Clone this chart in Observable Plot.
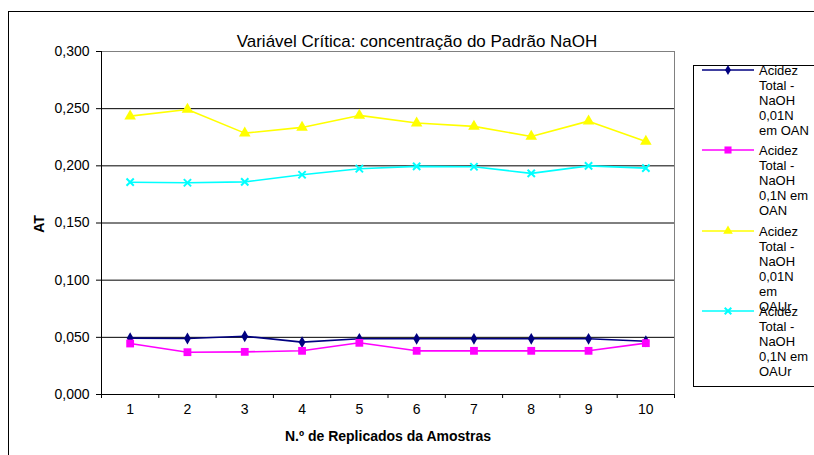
<!DOCTYPE html>
<html><head><meta charset="utf-8">
<script src="https://cdn.jsdelivr.net/npm/d3@7"></script>
<script src="https://cdn.jsdelivr.net/npm/@observablehq/plot@0.6"></script>
<style>body{margin:0;background:#fff}#chart svg{display:block}</style>
</head><body><div id="chart"></div>
<script>
const replicados = [1, 2, 3, 4, 5, 6, 7, 8, 9, 10];
const seriesNames = [
  "Acidez Total - NaOH 0,01N em OAN",
  "Acidez Total - NaOH 0,1N em OAN",
  "Acidez Total - NaOH 0,01N em OAUr",
  "Acidez Total - NaOH 0,1N em OAUr"
];
const legendLines = [
  ["Acidez", "Total -", "NaOH", "0,01N", "em OAN"],
  ["Acidez", "Total -", "NaOH", "0,1N em", "OAN"],
  ["Acidez", "Total -", "NaOH", "0,01N", "em", "OAUr"],
  ["Acidez", "Total -", "NaOH", "0,1N em", "OAUr"]
];
const naoh001OAN  = [0.0493, 0.0490, 0.0510, 0.0458, 0.0487, 0.0487, 0.0487, 0.0487, 0.0487, 0.0466];
const naoh01OAN   = [0.0446, 0.0370, 0.0373, 0.0382, 0.0452, 0.0382, 0.0382, 0.0382, 0.0382, 0.0449];
const naoh001OAUr = [0.2435, 0.2493, 0.2286, 0.2336, 0.2441, 0.2374, 0.2345, 0.2257, 0.2391, 0.2213];
const naoh01OAUr  = [0.1857, 0.1852, 0.1860, 0.1922, 0.1975, 0.1995, 0.1992, 0.1934, 0.2000, 0.1980];
const yTicks = [0, 0.05, 0.1, 0.15, 0.2, 0.25, 0.3];
const xBoundaries = [0.5, 1.5, 2.5, 3.5, 4.5, 5.5, 6.5, 7.5, 8.5, 9.5, 10.5];
const titleText = "Variável Crítica: concentração do Padrão NaOH";
const xLabel = "N.º de Replicados da Amostras";
const yLabel = "AT";

const colors = ["#000080", "#FF00FF", "#FFFF00", "#00FFFF"];
const valuesList = [naoh001OAN, naoh01OAN, naoh001OAUr, naoh01OAUr];
const data = valuesList.map((vals, s) => replicados.map((x, i) => ({x, y: vals[i], s})));

const fmt = d => d.toFixed(3).replace(".", ",");

const dotMarks = [
  Plot.dot(data[0], {x: "x", y: "y", symbol: "diamond", fill: colors[0], r: 3.6}),
  Plot.dot(data[1], {x: "x", y: "y", symbol: "square", fill: colors[1], r: 4.4}),
  Plot.dot(data[2], {x: "x", y: "y", symbol: "triangle", fill: colors[2], r: 4.3}),
  Plot.dot(data[3], {x: "x", y: "y", symbol: "times", stroke: colors[3], strokeWidth: 2, r: 3.4})
];

const chart = Plot.plot({
  width: 814,
  height: 455,
  marginLeft: 101,
  marginRight: 140,
  marginTop: 51,
  marginBottom: 61,
  style: {fontFamily: "'Liberation Sans', Arial, sans-serif", fontSize: "14px", color: "#000", background: "#fff"},
  x: {type: "linear", domain: [0.5, 10.5]},
  y: {domain: [0, 0.3]},
  marks: [
    Plot.frame({stroke: "#808080"}),
    Plot.ruleY(yTicks.filter(d => d > 0 && d < 0.3), {stroke: "#000", strokeWidth: 1}),
    Plot.ruleY([0], {stroke: "#000"}),
    Plot.ruleX([0.5], {stroke: "#000"}),
    Plot.axisY({ticks: yTicks, tickFormat: fmt, tickSize: 5, tickPadding: 7, label: null, fontSize: 14}),
    Plot.axisX({ticks: replicados, tickSize: 0, tickPadding: 10, tickFormat: d => String(d), label: null, fontSize: 14}),
    Plot.axisX({ticks: xBoundaries, tickSize: 4, tickFormat: () => "", label: null}),
    ...data.map((d, s) => Plot.line(d, {x: "x", y: "y", stroke: colors[s], strokeWidth: 1.6})),
    ...dotMarks
  ]
});
document.getElementById("chart").appendChild(chart);

const svg = d3.select(chart);
// outer chart border
svg.insert("rect", ":first-child").attr("x", 8.5).attr("y", 11.5).attr("width", 830).attr("height", 460)
  .attr("fill", "none").attr("stroke", "#000");
svg.append("text").attr("x", 417).attr("y", 47).attr("text-anchor", "middle")
  .attr("font-size", 17).attr("fill", "#000").text(titleText);
svg.append("text").attr("x", 388).attr("y", 441).attr("text-anchor", "middle")
  .attr("font-size", 14).attr("font-weight", "bold").attr("fill", "#000").text(xLabel);
svg.append("text").attr("transform", "translate(44,224) rotate(-90)").attr("text-anchor", "middle")
  .attr("font-size", 14).attr("font-weight", "bold").attr("fill", "#000").text(yLabel);

// legend
const lg = svg.append("g").attr("text-anchor", "start");
lg.append("rect").attr("x", 693.5).attr("y", 65.5).attr("width", 140).attr("height", 321)
  .attr("fill", "#fff").attr("stroke", "#000");
const entryY = [70, 150, 231, 311];
const symMap = [d3.symbolDiamond, d3.symbolSquare, d3.symbolTriangle, d3.symbolTimes];
entryY.forEach((y, s) => {
  lg.append("line").attr("x1", 702).attr("x2", 754).attr("y1", y).attr("y2", y)
    .attr("stroke", colors[s]).attr("stroke-width", 1.6);
  const sizes = [30, 50, 40, 30];
  const p = lg.append("path").attr("transform", `translate(728,${y})`)
    .attr("d", d3.symbol(symMap[s], sizes[s])());
  if (s === 3) p.attr("fill", "none").attr("stroke", colors[s]).attr("stroke-width", 2);
  else p.attr("fill", colors[s]);
  legendLines[s].forEach((t, i) => {
    lg.append("text").attr("x", 759).attr("y", y + 4.6 + i * 15).attr("font-size", 13)
      .attr("text-anchor", "start").attr("fill", "#000").text(t);
  });
});
</script>
</body></html>
